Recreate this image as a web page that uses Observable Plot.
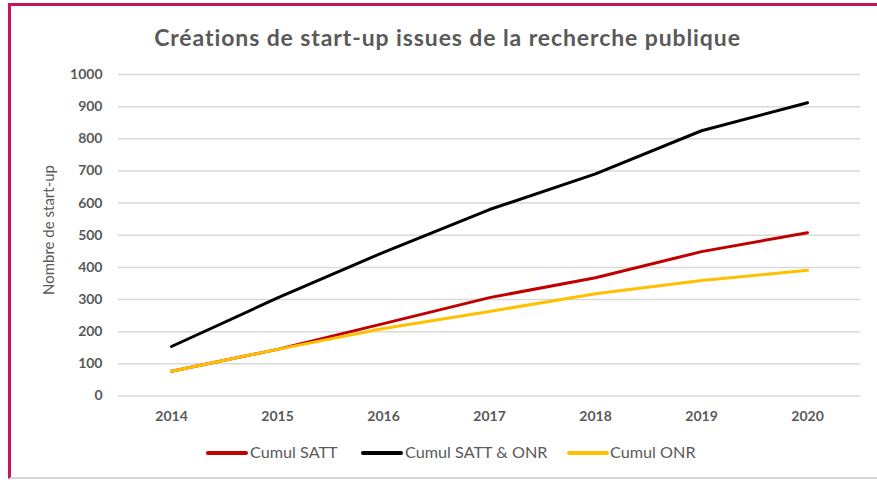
<!DOCTYPE html>
<html>
<head>
<meta charset="utf-8">
<script src="https://cdn.jsdelivr.net/npm/d3@7"></script>
<script src="https://cdn.jsdelivr.net/npm/@observablehq/plot@0.6"></script>
<style>
  html, body { margin: 0; padding: 0; background: #fff; }
  body { width: 877px; height: 480px; position: relative; overflow: hidden; font-family: Lato, "Open Sans", sans-serif; color: #595959; }
  #frame { position: absolute; left: 8px; top: 3px; right: -10px; bottom: 1px; border-left: 3px solid #C8145C; border-top: 3px solid #C8145C; border-bottom: 2px solid #d9d9d9; }
  #title { position: absolute; left: 0; width: 895px; top: 23px; text-align: center; font-size: 23px; letter-spacing: 0.9px; font-weight: bold; color: #595959; }
  #chart { position: absolute; left: 0; top: 50px; }
  #legend { position: absolute; top: 443px; left: 0; width: 877px; height: 20px; font-size: 15px; color: #595959; }
  .sw { position: absolute; width: 42px; height: 4px; top: 8px; border-radius: 2px; }
  .tx { position: absolute; top: 0; line-height: 19px; white-space: nowrap; transform: scaleX(1.08); transform-origin: 0 50%; }
</style>
</head>
<body>
<div id="frame"></div>
<div id="title">Créations de start-up issues de la recherche publique</div>
<div id="chart"></div>
<div id="legend"></div>
<script>
const years = ["2014", "2015", "2016", "2017", "2018", "2019", "2020"];
const cumulSATT = [77, 145, 225, 306, 368, 449, 508];
const cumulSATTONR = [154, 305, 447, 580, 691, 825, 912];
const cumulONR = [77, 145, 210, 263, 318, 359, 391];
const seriesNames = ["Cumul SATT", "Cumul SATT & ONR", "Cumul ONR"];
const seriesColors = ["#C00000", "#000000", "#FFC000"];
const yTicks = [0, 100, 200, 300, 400, 500, 600, 700, 800, 900, 1000];

const seriesValues = [cumulSATT, cumulSATTONR, cumulONR];
const rows = [];
seriesNames.forEach((name, i) => {
  years.forEach((yr, j) => rows.push({ year: yr, value: seriesValues[i][j], series: name }));
});

const chart = Plot.plot({
  width: 877,
  height: 380,
  marginLeft: 118,
  marginRight: 17,
  marginTop: 24,
  marginBottom: 34.5,
  style: { fontFamily: "Lato, 'Open Sans', sans-serif", color: "#595959", background: "transparent" },
  x: { type: "point", domain: years, padding: 0.5, label: null },
  y: { domain: [0, 1000], ticks: yTicks, label: null },
  color: { domain: seriesNames, range: seriesColors },
  marks: [
    Plot.gridY(yTicks, { stroke: "#d9d9d9", strokeOpacity: 1, strokeWidth: 1.5 }),
    Plot.axisY(yTicks, { tickSize: 0, tickPadding: 16, fontSize: 14, fontWeight: "bold", fill: "#595959", tickFormat: d => String(d) }),
    Plot.axisX({ tickSize: 0, tickPadding: 15, fontSize: 14, fontWeight: "bold", fill: "#595959" }),
    Plot.line(rows, { x: "year", y: "value", z: "series", stroke: "series", strokeWidth: 3, strokeLinejoin: "round", strokeLinecap: "round" })
  ]
});
document.getElementById("chart").appendChild(chart);

// y-axis title
const svg = d3.select(chart);
svg.append("text")
  .attr("transform", "translate(50,180) rotate(-90)")
  .attr("text-anchor", "middle")
  .attr("dominant-baseline", "middle")
  .attr("font-size", 15)
  .attr("fill", "#595959")
  .attr("font-family", "Lato, 'Open Sans', sans-serif")
  .text("Nombre de start-up");

// legend
const swatchLefts = [206, 361, 567];
const textLefts = [250, 405, 610];
const legend = document.getElementById("legend");
seriesNames.forEach((name, i) => {
  const sw = document.createElement("div");
  sw.className = "sw";
  sw.style.left = swatchLefts[i] + "px";
  sw.style.background = seriesColors[i];
  const tx = document.createElement("div");
  tx.className = "tx";
  tx.style.left = textLefts[i] + "px";
  tx.textContent = name;
  legend.appendChild(sw);
  legend.appendChild(tx);
});
</script>
</body>
</html>
